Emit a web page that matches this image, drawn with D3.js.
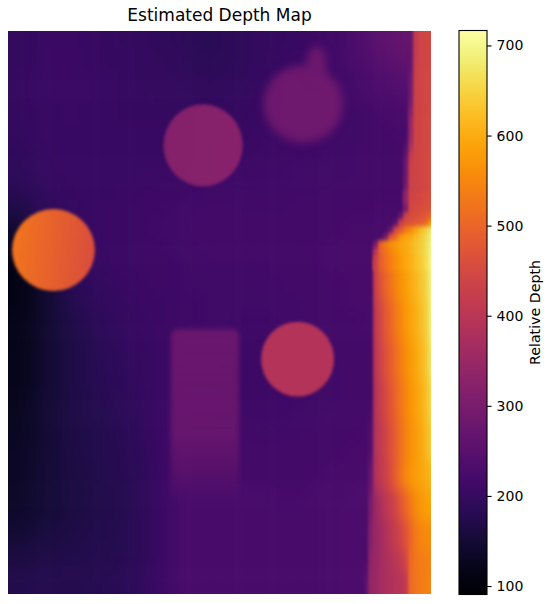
<!DOCTYPE html>
<html>
  <head>
    <meta charset="utf-8">
    <style>
      body { margin: 0; background: #fff; }
      text { font-family: "DejaVu Sans", sans-serif; fill: #000; }
    </style>
  </head>
  <body>
    <script src="https://d3js.org/d3.v7.min.js"></script>
    <script>
      var width = 550, height = 604;

      // depth map is 480 x 640 pixels
      var mapWidth = 480, mapHeight = 640;
      var depthDomain = [90.6, 716.6];
      var colorbarTicks = [100, 200, 300, 400, 500, 600, 700];

      // coarse room background, 24 columns by 30 rows
      var backgroundDepth = [
        [196,200,205,205,202,200,198,196,192,190,185,183,186,192,196,200,203,208,215,228,245,260,270,270],
        [197,200,206,206,203,200,199,197,194,191,187,185,188,193,198,202,205,210,216,228,240,252,262,262],
        [198,201,206,206,204,201,200,198,196,194,191,190,192,195,200,204,207,210,215,222,232,240,248,250],
        [198,201,205,205,204,201,200,199,198,196,194,193,195,198,202,206,208,210,214,218,224,230,236,238],
        [196,200,203,204,203,201,200,200,199,198,197,196,198,200,204,207,209,210,213,215,220,224,228,230],
        [194,199,202,203,203,202,201,201,201,200,200,200,201,203,206,208,210,211,213,215,218,221,224,226],
        [190,197,201,202,202,202,202,202,202,203,203,204,205,206,208,210,211,212,214,216,218,220,222,224],
        [186,194,200,201,202,203,203,204,205,206,207,208,209,210,211,212,213,214,215,217,219,220,221,222],
        [180,190,197,200,202,203,204,206,208,210,212,214,214,214,214,215,216,217,218,219,220,222,222,222],
        [165,180,192,198,202,204,206,209,212,214,217,218,218,217,217,217,218,219,220,221,222,224,224,224],
        [145,170,188,196,202,205,207,210,213,216,219,220,220,219,218,218,219,220,222,224,225,225,225,225],
        [125,155,180,192,200,204,207,210,212,214,216,218,218,218,218,218,219,221,223,226,226,226,226,226],
        [115,135,165,185,196,202,206,208,210,212,214,216,216,216,217,218,219,221,223,226,226,226,226,226],
        [114,128,155,178,190,198,203,206,208,211,213,215,215,215,216,217,218,220,222,224,226,226,226,226],
        [115,128,150,172,186,194,200,204,207,210,212,214,214,214,214,216,217,219,221,223,225,226,226,226],
        [118,128,150,168,180,190,197,202,206,210,212,214,214,212,212,214,216,218,220,222,224,226,226,226],
        [118,130,150,166,176,186,194,200,205,210,213,214,213,211,210,212,214,216,218,220,222,224,224,224],
        [120,130,150,165,174,184,192,198,204,210,213,214,212,210,208,210,212,214,216,218,220,222,222,222],
        [122,132,150,165,174,182,190,197,204,210,213,214,212,210,208,210,212,214,216,218,220,222,222,222],
        [124,135,150,165,173,180,187,195,204,212,214,214,212,210,208,210,212,214,216,218,220,222,222,222],
        [126,136,152,165,172,178,185,193,204,215,216,216,214,212,212,212,214,216,218,220,222,224,224,224],
        [128,138,152,164,170,176,182,191,205,218,218,218,216,216,215,216,216,218,220,222,224,226,226,226],
        [130,140,152,163,169,175,180,190,205,220,220,220,218,218,218,218,218,220,222,224,226,228,228,228],
        [132,142,152,162,168,174,179,188,204,221,222,222,220,220,220,220,220,222,224,226,228,228,228,228],
        [134,143,152,160,166,172,176,186,202,222,224,224,224,224,224,222,222,224,226,228,230,230,230,230],
        [138,146,154,161,167,172,176,186,202,222,226,226,226,226,224,224,224,226,228,230,230,230,230,230],
        [146,152,158,164,169,173,177,187,202,222,226,226,226,226,226,226,226,226,228,230,230,230,230,230],
        [156,160,164,168,172,175,178,188,203,222,226,226,226,226,226,226,226,226,228,230,230,230,230,230],
        [166,170,172,174,176,178,180,190,204,222,226,226,226,226,226,226,226,226,228,230,230,230,230,230],
        [172,175,176,176,178,180,182,192,206,222,226,226,226,226,226,226,226,226,228,230,230,230,230,230]
      ];

      // objects standing in the room, in depth map pixels
      var blobNames = ["ball", "plate", "disc", "apple", "stem"];
      var blobX = [51.6, 221.4, 328.6, 335, 350];
      var blobY = [249, 130, 373, 83, 37];
      var blobRadiusX = [47, 45, 41.4, 45, 11];
      var blobRadiusY = [46.6, 46.6, 42.6, 44, 20];
      var blobDepthLeft = [528, 318, 392, 282, 282];
      var blobDepthRight = [462, 322, 392, 286, 282];

      var boxX = [185, 262];
      var boxY = [339, 535];
      var boxDepth = 278;

      // right hand wall, finer cells, row limits in depth map pixels
      var _ = null;
      var wallColumnStart = 403, wallColumnSize = 5.68;
      var wallRowEdges = [0,44,90,135,181,198,206,214,222,230,238,246,255,272,306,351,397,442,488,522,556,590,613,640];
      var wallDepth = [
        [_,_,_,_,_,_,_,_,_,_,425,438,445,448],
        [_,_,_,_,_,_,_,_,_,290,435,440,446,450],
        [_,_,_,_,_,_,_,_,_,350,438,442,448,452],
        [_,_,_,_,_,_,_,_,280,435,440,445,450,455],
        [_,_,_,_,_,_,_,_,330,440,445,450,455,460],
        [_,_,_,_,_,_,_,_,300,450,455,460,465,470],
        [_,_,_,_,_,_,_,270,440,455,462,470,480,500],
        [_,_,_,_,_,_,260,430,460,470,480,490,510,570],
        [_,_,_,_,_,280,450,480,530,560,590,620,650,680],
        [_,_,_,_,300,470,510,570,590,600,620,640,660,690],
        [_,_,300,500,540,565,580,595,605,615,630,645,665,695],
        [_,_,400,500,525,550,568,585,598,610,628,645,665,695],
        [_,_,430,490,515,540,560,578,592,606,622,640,660,695],
        [_,_,430,470,500,525,548,568,584,600,615,632,652,690],
        [_,_,415,450,480,505,530,555,575,590,606,622,645,685],
        [_,_,405,438,465,490,515,540,562,580,596,612,634,675],
        [_,_,398,428,452,478,502,528,552,572,588,604,624,655],
        [_,240,392,418,442,466,492,520,545,565,582,596,614,640],
        [_,270,390,412,435,462,492,525,552,570,584,594,602,612],
        [_,300,355,380,405,425,450,478,505,535,560,575,585,590],
        [_,320,350,365,385,405,425,445,470,505,535,550,556,560],
        [230,335,350,365,380,392,405,420,450,510,530,538,542,546],
        [250,345,352,368,378,388,396,402,420,512,528,536,542,550]
      ];

      var x = d3.scaleLinear().domain([0, mapWidth]).range([8, 431]);
      var y = d3.scaleLinear().domain([0, mapHeight]).range([31, 594]);
      var color = d3.scaleSequential(d3.interpolateInferno).domain(depthDomain);
      var cbarY = d3.scaleLinear().domain(depthDomain).range([594.5, 30.5]);

      var svg = d3.select("body").append("svg")
          .attr("width", width)
          .attr("height", height)
          .style("display", "block");

      var defs = svg.append("defs");

      defs.append("clipPath").attr("id", "map-clip")
        .append("rect")
          .attr("x", x(0)).attr("y", y(0))
          .attr("width", x(mapWidth) - x(0))
          .attr("height", y(mapHeight) - y(0));

      function addBlur(id, dev) {
        defs.append("filter").attr("id", id)
            .attr("filterUnits", "userSpaceOnUse")
            .attr("color-interpolation-filters", "sRGB")
            .attr("x", -60).attr("y", -60).attr("width", width + 120).attr("height", height + 120)
          .append("feGaussianBlur").attr("stdDeviation", dev);
      }
      addBlur("blur-room", 8);
      addBlur("blur-strip", "1.4 9");
      addBlur("blur-wall", "1.4 7");
      addBlur("blur-corner", "1.4 2");
      addBlur("blur-sharp", 1.6);
      addBlur("blur-box", 2.4);
      addBlur("blur-soft", 4.2);

      function addGradient(id, from, to, x2, y2) {
        var g = defs.append("linearGradient").attr("id", id)
            .attr("x1", 0).attr("y1", 0).attr("x2", x2).attr("y2", y2);
        g.append("stop").attr("offset", "0%").attr("stop-color", from);
        g.append("stop").attr("offset", "100%").attr("stop-color", to);
        return g;
      }

      var map = svg.append("g").attr("clip-path", "url(#map-clip)");

      // room cells, edge cells run past the clip so the blur keeps its colour
      var over = 40;
      var rowBand = d3.scaleBand().domain(d3.range(backgroundDepth.length)).range([y(0), y(mapHeight)]);
      var colBand = d3.scaleBand().domain(d3.range(backgroundDepth[0].length)).range([x(0), x(mapWidth)]);
      var lastRow = backgroundDepth.length - 1, lastCol = backgroundDepth[0].length - 1;

      var room = map.append("g").attr("filter", "url(#blur-room)");
      backgroundDepth.forEach(function(row, r){
        room.append("g").selectAll("rect")
            .data(row)
          .enter().append("rect")
            .attr("x", function(d, c){ return colBand(c) - (c == 0 ? over : 0); })
            .attr("y", rowBand(r) - (r == 0 ? over : 0))
            .attr("width", function(d, c){ return colBand.bandwidth() + 0.5 + (c == 0 || c == lastCol ? over : 0); })
            .attr("height", rowBand.bandwidth() + 0.5 + (r == 0 || r == lastRow ? over : 0))
            .attr("fill", function(d){ return color(d); });
      });

      // the box is a soft rectangle that fades out towards its foot
      var boxFade = defs.append("linearGradient").attr("id", "box-fill")
          .attr("x1", 0).attr("y1", 0).attr("x2", 0).attr("y2", 1);
      [[0, 1], [0.6, 0.9], [0.85, 0.45], [1, 0]].forEach(function(d){
        boxFade.append("stop")
            .attr("offset", d[0] * 100 + "%")
            .attr("stop-color", color(boxDepth))
            .attr("stop-opacity", d[1]);
      });
      map.append("rect")
          .attr("x", x(boxX[0])).attr("y", y(boxY[0]))
          .attr("width", x(boxX[1]) - x(boxX[0]))
          .attr("height", y(boxY[1]) - y(boxY[0]))
          .attr("rx", 6)
          .attr("fill", "url(#box-fill)")
          .attr("filter", "url(#blur-box)");

      blobNames.forEach(function(name, i){
        addGradient("blob-" + i, color(blobDepthLeft[i]), color(blobDepthRight[i]), 1, 0.1);
      });
      map.append("g").selectAll("ellipse")
          .data(blobNames)
        .enter().append("ellipse")
          .attr("cx", function(d, i){ return x(blobX[i]); })
          .attr("cy", function(d, i){ return y(blobY[i]); })
          .attr("rx", function(d, i){ return x(blobRadiusX[i]) - x(0); })
          .attr("ry", function(d, i){ return y(blobRadiusY[i]) - y(0); })
          .attr("fill", function(d, i){ return "url(#blob-" + i + ")"; })
          .attr("filter", function(d){ return d == "apple" || d == "stem" ? "url(#blur-soft)" : "url(#blur-sharp)"; });

      // wall in three passes: long runs blur more along y, the corner stays crisp on top
      function drawWall(filterId, fromRow, toRow) {
        var wall = map.append("g").attr("filter", "url(#" + filterId + ")");
        d3.range(fromRow, toRow + 1).forEach(function(r){
          var row = wallDepth[r];
          var top = y(wallRowEdges[r]), bottom = y(wallRowEdges[r + 1]);
          var cells = row.map(function(d, c){ return { depth: d, col: c }; })
              .filter(function(d){ return d.depth !== null; });
          wall.append("g").selectAll("rect")
              .data(cells)
            .enter().append("rect")
              .attr("x", function(d){ return x(wallColumnStart + d.col * wallColumnSize); })
              .attr("y", top - (r == 0 ? over : 0))
              .attr("width", function(d){ return x(wallColumnSize) - x(0) + 0.5 + (d.col == row.length - 1 ? over : 0); })
              .attr("height", bottom - top + 0.5 + (r == 0 || r == wallDepth.length - 1 ? over : 0))
              .attr("fill", function(d){ return color(d.depth); });
        });
      }
      drawWall("blur-strip", 0, 4);
      drawWall("blur-wall", 12, wallDepth.length - 1);
      drawWall("blur-corner", 4, 12);

      // title
      svg.append("text")
          .attr("x", 219.5)
          .attr("y", 21)
          .attr("text-anchor", "middle")
          .style("font-size", "17px")
          .text("Estimated Depth Map");

      // colorbar
      var cbarStops = d3.range(0, 1.001, 0.05);
      var cbarFill = defs.append("linearGradient").attr("id", "cbar-fill")
          .attr("x1", 0).attr("y1", 1).attr("x2", 0).attr("y2", 0);
      cbarStops.forEach(function(d){
        cbarFill.append("stop")
            .attr("offset", d * 100 + "%")
            .attr("stop-color", d3.interpolateInferno(d));
      });

      svg.append("rect")
          .attr("x", 459).attr("y", cbarY(depthDomain[1]))
          .attr("width", 28)
          .attr("height", cbarY(depthDomain[0]) - cbarY(depthDomain[1]))
          .attr("fill", "url(#cbar-fill)")
          .attr("stroke", "#000")
          .attr("stroke-width", 1.1);

      var cbarAxis = svg.append("g")
          .attr("transform", "translate(487,0)")
          .call(d3.axisRight(cbarY).tickValues(colorbarTicks).tickSize(4.6).tickPadding(5).tickFormat(d3.format("d")));
      cbarAxis.select(".domain").remove();
      cbarAxis.selectAll("line").attr("stroke", "#000").attr("stroke-width", 1.1);
      cbarAxis.selectAll("text")
          .attr("fill", "#000")
          .style("font-size", "14px")
          .style("font-family", "'DejaVu Sans', sans-serif");

      svg.append("text")
          .attr("transform", "translate(540,312.5) rotate(-90)")
          .attr("text-anchor", "middle")
          .style("font-size", "14.2px")
          .text("Relative Depth");
    </script>
  </body>
</html>
